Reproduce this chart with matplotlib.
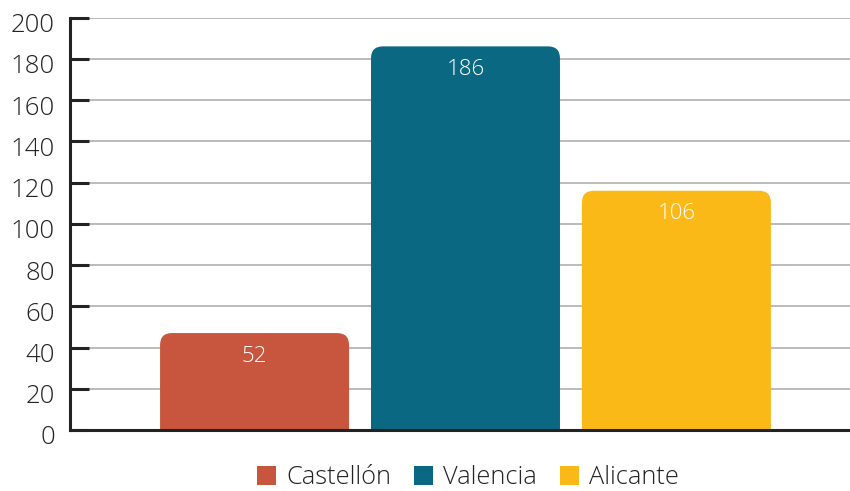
import matplotlib
matplotlib.use("Agg")
import matplotlib.pyplot as plt
import matplotlib.transforms as mtransforms
from matplotlib.patches import FancyBboxPatch, Patch

# data
provinces = ["Castellón", "Valencia", "Alicante"]
bar_heights = [47, 186, 116]        # bar tops as drawn
bar_labels = ["52", "186", "106"]   # labels printed inside the bars
colors = ["#C8553D", "#0B6882", "#FBB917"]
yticks = [0, 20, 40, 60, 80, 100, 120, 140, 160, 180, 200]

plt.rcParams["font.family"] = ["Open Sans", "DejaVu Sans"]
plt.rcParams["font.weight"] = "light"

fig = plt.figure(figsize=(8.5, 4.91), dpi=100)
ax = fig.add_axes([70 / 850, 1 - 430 / 491, 1 - 70 / 850, (430 - 17.5) / 491])

ax.set_xlim(-0.875, 2.823)
ax.set_ylim(0, 200)

bar_w = 0.896
px_x = 210.9   # pixels per x unit
px_y = 2.06    # pixels per y unit
radius = 12    # corner radius in pixels
for i, (h, lab, col) in enumerate(zip(bar_heights, bar_labels, colors)):
    pad = radius / px_x
    box = FancyBboxPatch((i - bar_w / 2 + pad, -20), bar_w - 2 * pad, h + 20 - pad * (px_x / px_y),
                         boxstyle=f"round,pad={pad},rounding_size={pad}",
                         mutation_aspect=px_x / px_y,
                         facecolor=col, edgecolor="none", zorder=3)
    ax.add_patch(box)
    ax.annotate(lab, xy=(i, h), xytext=(0, -23), textcoords="offset pixels",
                ha="center", va="center", color="white", fontsize=16, zorder=4)

ax.set_yticks(yticks)
ax.yaxis.grid(True, color="#a8a8a8", linewidth=1.1, zorder=0)
ax.set_axisbelow(True)
ax.set_xticks([])
ax.tick_params(axis="y", direction="in", length=13.7, width=2.2, color="#222222",
               labelsize=18.5, pad=11, labelcolor="#222222")
offset = mtransforms.ScaledTranslation(0, -5 / 100, fig.dpi_scale_trans)
for lbl in ax.get_yticklabels():
    lbl.set_transform(lbl.get_transform() + offset)

for s in ["top", "right"]:
    ax.spines[s].set_visible(False)
for s in ["left", "bottom"]:
    ax.spines[s].set_linewidth(2.2)
    ax.spines[s].set_color("#222222")
    ax.spines[s].set_zorder(5)

handles = [Patch(facecolor=c, edgecolor="none") for c in colors]
fig.legend(handles, provinces, loc="center", bbox_to_anchor=(468 / 850, 1 - 478 / 491),
           ncol=3, frameon=False, fontsize=18.3, handlelength=0.75, handleheight=0.75,
           handletextpad=0.4, columnspacing=0.9, labelcolor="#222222")

fig.savefig("out.png", dpi=100)
